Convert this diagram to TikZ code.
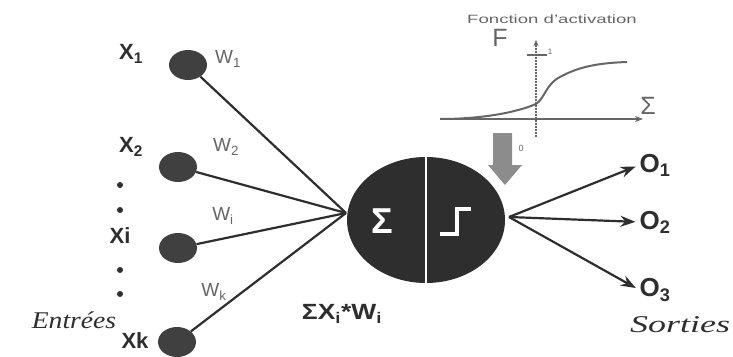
\documentclass[tikz,border=0pt]{standalone}
\usepackage{fontspec}
\usepackage{graphicx}
\setmainfont{Liberation Serif}
\setsansfont{Liberation Sans}
\usetikzlibrary{arrows.meta,shapes.geometric}
\definecolor{ink}{gray}{0.18}
\definecolor{dot}{gray}{0.25}
\tikzset{
  neuron/.style={ellipse, fill=dot, minimum width=38pt, minimum height=30pt, inner sep=0pt},
  conn/.style={draw=ink, line width=2.2pt},
  outarrow/.style={draw=ink, line width=2.2pt, -{Stealth[length=15pt,width=11pt]}, shorten >=4pt},
  xlab/.style={font=\sffamily\bfseries\fontsize{22}{22}\selectfont, text=ink, inner sep=0pt},
  wlab/.style={font=\sffamily\fontsize{19}{19}\selectfont, text=black!60, inner sep=0pt},
  olab/.style={font=\sffamily\bfseries\fontsize{26}{26}\selectfont, text=ink, inner sep=0pt},
  dotm/.style={circle, fill=ink, minimum size=6pt, inner sep=0pt},
  gtext/.style={text=black!60, inner sep=0pt},
  ital/.style={font=\rmfamily\itshape\fontsize{24}{24}\selectfont, text=ink, inner sep=0pt}
}
\begin{document}
\begin{tikzpicture}[x=1pt,y=-1pt]
\useasboundingbox (0,0) rectangle (733,356);
% inputs
\node[neuron] (c1) at (188,65) {};
\node[neuron] (c2) at (178,167) {};
\node[neuron] (c3) at (178,248) {};
\node[neuron] (c4) at (177,342) {};
\node[xlab] (x1) at (131,54) {X\textsubscript{1}};
\node[xlab] (x2) at (131,147) {X\textsubscript{2}};
\node[xlab] (xi) at (120,236) {Xi};
\node[xlab] (xk) at (135,341) {Xk};
\node[wlab] (w1) at (228,59) {W\textsubscript{1}};
\node[wlab] (w2) at (226,147) {W\textsubscript{2}};
\node[wlab] (wi) at (223,216) {W\textsubscript{i}};
\node[wlab] (wk) at (214,292) {W\textsubscript{k}};
\node[dotm] (d1) at (120,185) {};
\node[dotm] (d2) at (120,210) {};
\node[dotm] (d3) at (120,270) {};
\node[dotm] (d4) at (120,294) {};
\node[ital] (entrees) at (74,320) {\scalebox{1.15}[1]{Entrées}};
% body
\node[ellipse, fill=black!82, minimum width=158pt, minimum height=126pt, inner sep=0pt] (body) at (426,220) {};
\coordinate (in) at (346,213);
\draw[conn] (c1) -- (in);
\draw[conn] (c2) -- (in);
\draw[conn] (c3) -- (in);
\draw[conn] (c4) -- (in);
\draw[white, line width=2pt] (body.north) -- (body.south);
\node[text=white, font=\sffamily\bfseries\fontsize{36}{36}\selectfont, inner sep=0pt] (sig) at (382,221) {Σ};
\draw[white, line width=4pt] (440,234) -- (457,234) -- (457,209) -- (471,209);
\node[font=\sffamily\bfseries\fontsize{22}{22}\selectfont, text=ink, inner sep=0pt] (sumlab) at (342,314) {\scalebox{1.2}[1]{ΣX\textsubscript{i}*W\textsubscript{i}}};
% outputs
\node[olab] (o1) at (655,165) {O\textsubscript{1}};
\node[olab] (o2) at (655,222) {O\textsubscript{2}};
\node[olab] (o3) at (655,290) {O\textsubscript{3}};
\coordinate (out) at (509,217);
\draw[outarrow] (out) -- (o1.west);
\draw[outarrow] (out) -- (o2.west);
\draw[outarrow] (out) -- (o3.west);
\node[ital] (sorties) at (680,325) {\scalebox{1.5}[1]{Sorties}};
% gray block arrow
\fill[black!45] (493,133) -- (512,133) -- (512,165) -- (522,165) -- (505,185) -- (488,165) -- (493,165) -- cycle;
\node[gtext, font=\sffamily\fontsize{9}{9}\selectfont] (zero) at (521,148) {0};
% activation graph
\node[gtext, font=\sffamily\fontsize{12}{12}\selectfont] (title) at (552,19) {\scalebox{1.55}[1]{Fonction d'activation}};
\node[gtext, font=\sffamily\fontsize{25}{25}\selectfont] (F) at (500,38) {F};
\node[gtext, font=\sffamily\fontsize{25}{25}\selectfont] (S) at (648,106) {Σ};
\coordinate (vb) at (536,137);
\coordinate (vt) at (536,40);
\coordinate (hl) at (440,119);
\coordinate (hr) at (643,119);
\draw[black!60, line width=1.3pt, dash pattern=on 2pt off 1pt, -{Stealth[length=6pt,width=5pt]}] (vb) -- (vt);
\draw[black!60, line width=2pt, -{Stealth[length=8pt,width=6pt]}] (hl) -- (hr);
\draw[black!60, line width=1.3pt] (527,55) -- (547,55);
\node[gtext, font=\sffamily\fontsize{8}{8}\selectfont] (one) at (550,52) {1};
\draw[black!60, line width=2pt] (440,119) .. controls (480,119) and (515,113) .. (536,104)
  .. controls (545,98) and (546,84) .. (560,77) .. controls (580,66) and (600,63) .. (627,62);
\end{tikzpicture}
\end{document}
